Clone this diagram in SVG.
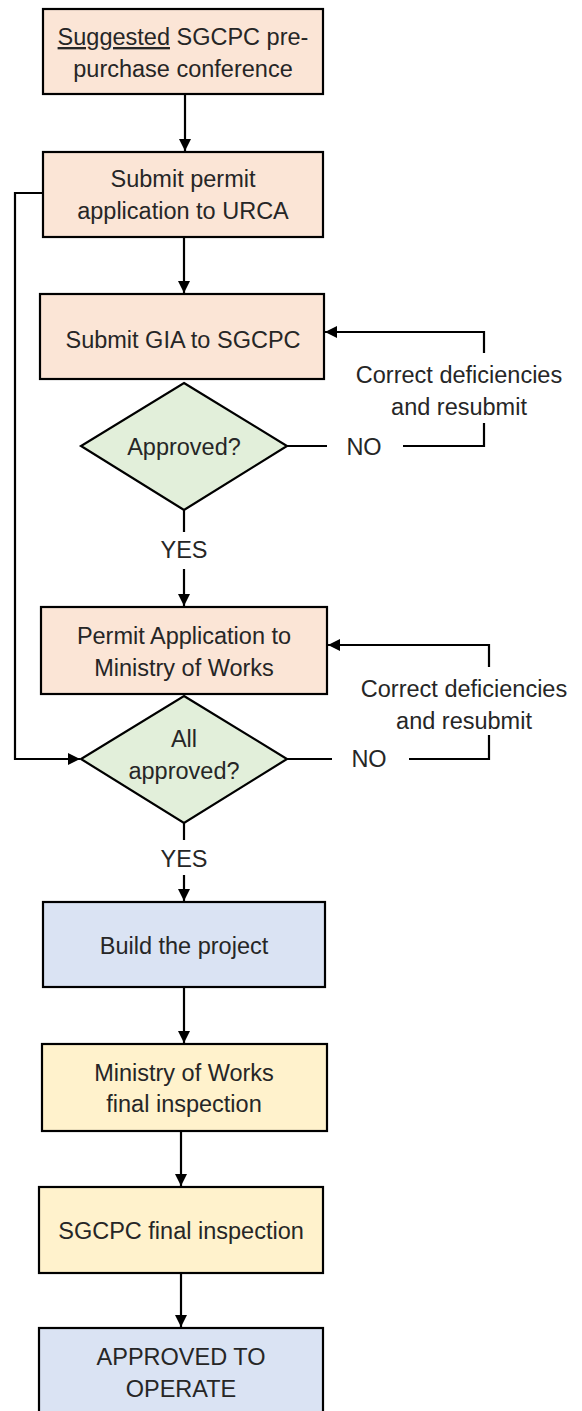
<svg xmlns="http://www.w3.org/2000/svg" width="582" height="1411" viewBox="0 0 582 1411">
<style>
  .box{stroke:#000;stroke-width:2.2}
  .peach{fill:#FBE5D6}
  .green{fill:#E2EFDA}
  .blue{fill:#DAE3F3}
  .yellow{fill:#FFF2CC}
  text{font-family:"Liberation Sans",Arial,sans-serif;font-size:23.5px;fill:#262626;text-anchor:middle}
  .conn path{fill:none;stroke:#000;stroke-width:2.2}
</style>
<defs>
  <marker id="arr" viewBox="0 0 12 12" refX="12" refY="6" markerWidth="12" markerHeight="12" markerUnits="userSpaceOnUse" orient="auto">
    <path d="M0,0 L12,6 L0,12 Z" fill="#000"/>
  </marker>
</defs>
<rect width="582" height="1411" fill="#fff"/>

<g id="n1">
  <rect class="box peach" x="43" y="9" width="280" height="85"/>
  <text x="183" y="45"><tspan text-decoration="underline">Suggested</tspan> SGCPC pre-</text>
  <text x="183" y="77">purchase conference</text>
</g>
<g id="n2">
  <rect class="box peach" x="43" y="152" width="280" height="85"/>
  <text x="183" y="187">Submit permit</text>
  <text x="183" y="219">application to URCA</text>
</g>
<g id="n3">
  <rect class="box peach" x="40" y="294" width="284" height="85"/>
  <text x="183" y="348">Submit GIA to SGCPC</text>
</g>
<g id="d1">
  <polygon class="box green" points="184,383 287,446 184,510 81,446"/>
  <text x="184" y="455">Approved?</text>
</g>
<g id="n4">
  <rect class="box peach" x="41" y="607" width="286" height="87"/>
  <text x="184" y="644">Permit Application to</text>
  <text x="184" y="676">Ministry of Works</text>
</g>
<g id="d2">
  <polygon class="box green" points="184,696 287,759 184,823 81,759"/>
  <text x="184" y="747">All</text>
  <text x="184" y="779">approved?</text>
</g>
<g id="n5">
  <rect class="box blue" x="43" y="902" width="282" height="85"/>
  <text x="184" y="954">Build the project</text>
</g>
<g id="n6">
  <rect class="box yellow" x="42" y="1044" width="285" height="87"/>
  <text x="184" y="1081">Ministry of Works</text>
  <text x="184" y="1112">final inspection</text>
</g>
<g id="n7">
  <rect class="box yellow" x="39" y="1187" width="284" height="86"/>
  <text x="181" y="1239">SGCPC final inspection</text>
</g>
<g id="n8">
  <rect class="box blue" x="39" y="1328" width="284" height="100"/>
  <text x="181" y="1365">APPROVED TO</text>
  <text x="181" y="1397">OPERATE</text>
</g>

<g id="connectors" class="conn">
  <path d="M185,94 V151" marker-end="url(#arr)"/>
  <path d="M184,237 V293" marker-end="url(#arr)"/>
  <path d="M43,193 H15 V759 H80" marker-end="url(#arr)"/>
  <path d="M287,446 H327"/>
  <path d="M403,446 H484 V423"/>
  <path d="M484,353 V332 H325" marker-end="url(#arr)"/>
  <path d="M184,510 V532"/>
  <path d="M184,569 V606" marker-end="url(#arr)"/>
  <path d="M287,759 H332"/>
  <path d="M409,759 H489 V735"/>
  <path d="M489,667 V645 H328" marker-end="url(#arr)"/>
  <path d="M184,823 V840"/>
  <path d="M184,875 V901" marker-end="url(#arr)"/>
  <path d="M184,987 V1043" marker-end="url(#arr)"/>
  <path d="M181,1131 V1186" marker-end="url(#arr)"/>
  <path d="M181,1273 V1327" marker-end="url(#arr)"/>
</g>
<g id="labels">
  <text x="184" y="558">YES</text>
  <text x="364" y="455">NO</text>
  <text x="459" y="383">Correct deficiencies</text>
  <text x="459" y="415">and resubmit</text>
  <text x="184" y="867">YES</text>
  <text x="369" y="767">NO</text>
  <text x="464" y="697">Correct deficiencies</text>
  <text x="464" y="729">and resubmit</text>
</g>
</svg>
